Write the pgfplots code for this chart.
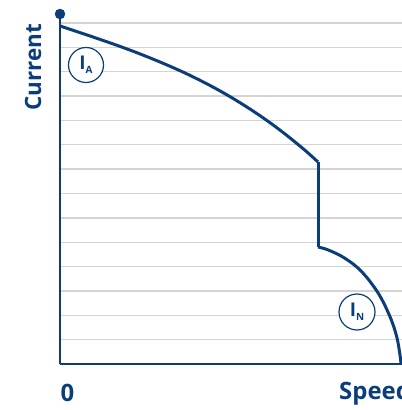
\documentclass[border=0pt]{standalone}
\usepackage{pgfplots}
\pgfplotsset{compat=1.18}
\usepackage{fontspec}
\setmainfont{Open Sans}
\definecolor{navy}{HTML}{0B3D7B}
\definecolor{gridgray}{HTML}{D4D4D4}
\begin{document}
\begin{tikzpicture}[x=1bp,y=1bp]
\path[use as bounding box] (0,0) rectangle (402,410);
\begin{axis}[
  at={(60bp,46bp)}, anchor=south west,
  scale only axis, width=342bp, height=350bp,
  xmin=0, xmax=342, ymin=0, ymax=350,
  axis lines=left,
  axis line style={-, draw=navy, line width=2.5bp},
  xtick=\empty,
  ytick={24.36,48.71,73.07,97.43,121.79,146.14,170.50,194.86,219.21,243.57,267.93,292.29,316.64,341.00},
  yticklabels={},
  major tick length=0pt,
  ymajorgrids,
  grid style={gridgray, line width=1.3bp},
  clip=false,
]
\addplot[navy, line width=3bp, smooth, tension=0.6] coordinates {
  (0,338) (20,331.4) (40,324.6) (60,317.6) (80,310.1) (100,302.0) (120,293.3)
  (140,283.7) (160,273.1) (180,261.3) (200,248.3) (220,233.9) (240,217.9)
  (250,209.3) (258,202)
};
\addplot[navy, line width=3bp] coordinates {(258,202) (258,117)};
\addplot[navy, line width=3bp, smooth, tension=0.6] coordinates {
  (258,117) (268.3,114) (285,105.7) (301.7,92.3) (318.3,70.7) (330,47.3) (336.7,27.3) (340,9) (341,0)
};
\addplot[navy, only marks, mark=*, mark size=5bp] coordinates {(0,350)};
\end{axis}
\node[rotate=90, text=navy, font=\bfseries\fontsize{22.5}{22.5}\selectfont, inner sep=0pt] at (33,343) {Current};
\node[text=navy, font=\bfseries\fontsize{24}{24}\selectfont, anchor=base, inner sep=0pt] at (67.5,9) {0};
\node[text=navy, font=\bfseries\fontsize{24}{24}\selectfont, anchor=base west, inner sep=0pt] at (339,11) {Speed};
\draw[navy, line width=1.2bp, fill=white] (86,345) circle (17.5);
\node[text=navy, inner sep=0pt] at (86,345) {\bfseries\fontsize{19}{19}\selectfont I\raisebox{-4bp}{\fontsize{10}{10}\selectfont A}};
\draw[navy, line width=1.2bp, fill=white] (357,98) circle (18);
\node[text=navy, inner sep=0pt] at (357,98) {\bfseries\fontsize{19}{19}\selectfont I\raisebox{-4bp}{\fontsize{10}{10}\selectfont N}};
\end{tikzpicture}
\end{document}
